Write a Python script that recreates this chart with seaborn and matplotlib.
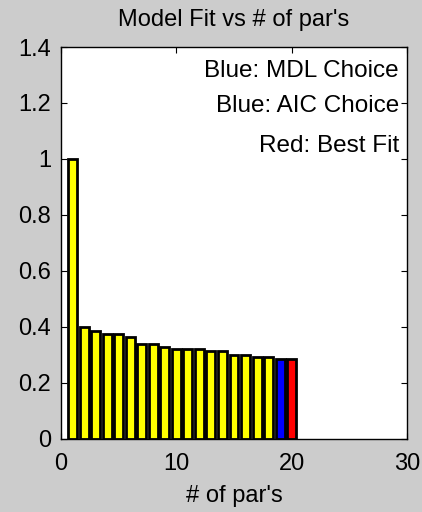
import matplotlib
matplotlib.use("Agg")
import matplotlib.pyplot as plt
import seaborn as sns
import pandas as pd

# number of parameters and model fit per model
n_params = list(range(1, 21))
model_fit = [1.0, 0.401, 0.387, 0.374, 0.374, 0.365, 0.338, 0.338, 0.330, 0.323,
             0.323, 0.323, 0.314, 0.314, 0.301, 0.301, 0.294, 0.294, 0.287, 0.287]
mdl_choice = 19
best_fit = 20
notes = ["Blue: MDL Choice", "Blue: AIC Choice", "Red: Best Fit"]

df = pd.DataFrame({"n": n_params, "fit": model_fit})
df["kind"] = "other"
df.loc[df["n"] == mdl_choice, "kind"] = "choice"
df.loc[df["n"] == best_fit, "kind"] = "best"

sns.set_style("ticks")
plt.rcParams["font.family"] = ["Liberation Sans", "DejaVu Sans"]
plt.rcParams["font.size"] = 17
plt.rcParams["text.color"] = "black"
plt.rcParams["axes.labelcolor"] = "black"

fig = plt.figure(figsize=(4.22, 5.12), dpi=100, facecolor="#cccccc")
ax = fig.add_axes([0.1445, 0.1426, 0.820, 0.7656])
ax.set_facecolor("white")

sns.barplot(data=df, x="n", y="fit", hue="kind", native_scale=True,
            palette={"other": "#ffff00", "choice": "#0000ff", "best": "#ff0000"},
            saturation=1, edgecolor="black", linewidth=2, width=0.78,
            dodge=False, legend=False, ax=ax)

ax.set_xlim(0, 30)
ax.set_ylim(0, 1.4)
ax.set_xticks([0, 10, 20, 30])
ax.set_yticks([0, 0.2, 0.4, 0.6, 0.8, 1.0, 1.2, 1.4])
ax.set_yticklabels(["0", "0.2", "0.4", "0.6", "0.8", "1", "1.2", "1.4"])
ax.tick_params(direction="in", top=True, right=True, length=4, labelsize=17,
               colors="black")
ax.tick_params(axis="x", pad=10)
ax.tick_params(axis="y", pad=7)
for s in ax.spines.values():
    s.set_visible(True)
    s.set_color("black")
    s.set_linewidth(1)

ax.set_title("Model Fit vs # of par's", fontsize=17, pad=15, color="black")
ax.set_xlabel("# of par's", fontsize=17, labelpad=7)
ax.set_ylabel("")

for txt, yv in zip(notes, [1.315, 1.19, 1.045]):
    ax.text(29.3, yv, txt, ha="right", va="center", fontsize=17.5)

fig.savefig("out.png", dpi=100, facecolor=fig.get_facecolor())
